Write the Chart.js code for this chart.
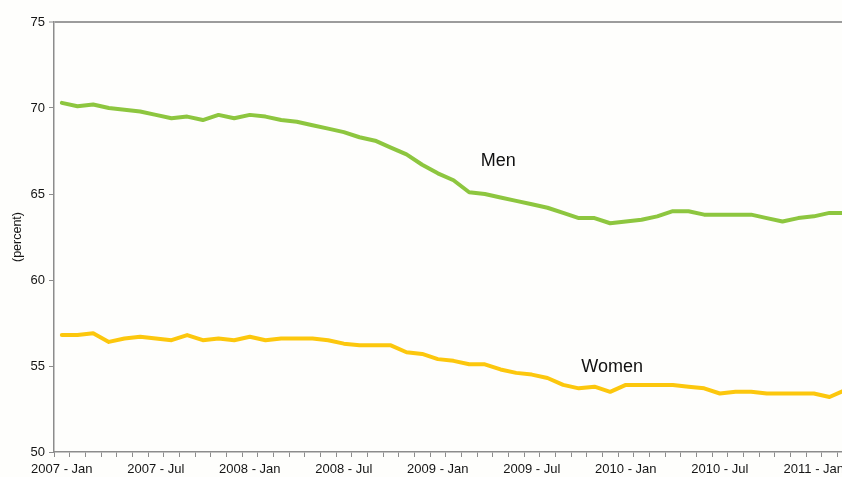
<!DOCTYPE html>
<html>
<head>
<meta charset="utf-8">
<script src="https://cdn.jsdelivr.net/npm/chart.js@4.4.1/dist/chart.umd.min.js"></script>
<style>
  html, body { margin: 0; padding: 0; background: #fefefc; overflow: hidden; }
  #wrap { position: relative; width: 856px; height: 477px; }
</style>
</head>
<body>
<div id="wrap"><canvas id="c"></canvas></div>
<script>
const categories = [
  '2007 - Jan','2007 - Feb','2007 - Mar','2007 - Apr','2007 - May','2007 - Jun',
  '2007 - Jul','2007 - Aug','2007 - Sep','2007 - Oct','2007 - Nov','2007 - Dec',
  '2008 - Jan','2008 - Feb','2008 - Mar','2008 - Apr','2008 - May','2008 - Jun',
  '2008 - Jul','2008 - Aug','2008 - Sep','2008 - Oct','2008 - Nov','2008 - Dec',
  '2009 - Jan','2009 - Feb','2009 - Mar','2009 - Apr','2009 - May','2009 - Jun',
  '2009 - Jul','2009 - Aug','2009 - Sep','2009 - Oct','2009 - Nov','2009 - Dec',
  '2010 - Jan','2010 - Feb','2010 - Mar','2010 - Apr','2010 - May','2010 - Jun',
  '2010 - Jul','2010 - Aug','2010 - Sep','2010 - Oct','2010 - Nov','2010 - Dec',
  '2011 - Jan','2011 - Feb','2011 - Mar'
];
const shownTickLabels = ['2007 - Jan','2007 - Jul','2008 - Jan','2008 - Jul','2009 - Jan','2009 - Jul','2010 - Jan','2010 - Jul','2011 - Jan'];
const menValues = [
  70.3, 70.1, 70.2, 70.0, 69.9, 69.8, 69.6, 69.4, 69.5, 69.3, 69.6, 69.4,
  69.6, 69.5, 69.3, 69.2, 69.0, 68.8, 68.6, 68.3, 68.1, 67.7, 67.3, 66.7,
  66.2, 65.8, 65.1, 65.0, 64.8, 64.6, 64.4, 64.2, 63.9, 63.6, 63.6, 63.3,
  63.4, 63.5, 63.7, 64.0, 64.0, 63.8, 63.8, 63.8, 63.8, 63.6, 63.4, 63.6,
  63.7, 63.9, 63.9
];
const womenValues = [
  56.8, 56.8, 56.9, 56.4, 56.6, 56.7, 56.6, 56.5, 56.8, 56.5, 56.6, 56.5,
  56.7, 56.5, 56.6, 56.6, 56.6, 56.5, 56.3, 56.2, 56.2, 56.2, 55.8, 55.7,
  55.4, 55.3, 55.1, 55.1, 54.8, 54.6, 54.5, 54.3, 53.9, 53.7, 53.8, 53.5,
  53.9, 53.9, 53.9, 53.9, 53.8, 53.7, 53.4, 53.5, 53.5, 53.4, 53.4, 53.4,
  53.4, 53.2, 53.6
];
const yTickValues = [50, 55, 60, 65, 70, 75];
const seriesNames = ['Men', 'Women'];

const seriesLabelPlugin = {
  id: 'seriesLabels',
  afterDatasetsDraw(chart) {
    const { ctx, scales: { x, y } } = chart;
    const spots = [
      { text: seriesNames[0], xv: 27.85, yv: 66.91 },
      { text: seriesNames[1], xv: 35.13, yv: 54.93 }
    ];
    ctx.save();
    ctx.font = '18px "Liberation Sans", Arial, sans-serif';
    ctx.fillStyle = '#111';
    ctx.textAlign = 'center';
    ctx.textBaseline = 'middle';
    spots.forEach(s => ctx.fillText(s.text, x.getPixelForValue(s.xv), y.getPixelForValue(s.yv)));
    ctx.restore();
  }
};

const bgPlugin = {
  id: 'bg',
  beforeDraw(chart) {
    const ctx = chart.ctx;
    ctx.save();
    ctx.fillStyle = '#fefefc';
    ctx.fillRect(0, 0, chart.width, chart.height);
    ctx.restore();
  }
};

Chart.defaults.font.family = '"Liberation Sans", Arial, sans-serif';
Chart.defaults.font.size = 13;
Chart.defaults.color = '#151515';

new Chart(document.getElementById('c'), {
  type: 'line',
  data: {
    labels: categories,
    datasets: [
      { label: seriesNames[0], data: menValues, borderColor: '#8dc63f', borderWidth: 4,
        pointRadius: 0, tension: 0, fill: false, borderJoinStyle: 'round', borderCapStyle: 'round' },
      { label: seriesNames[1], data: womenValues, borderColor: '#fcc70d', borderWidth: 4,
        pointRadius: 0, tension: 0, fill: false, borderJoinStyle: 'round', borderCapStyle: 'round' }
    ]
  },
  options: {
    responsive: true,
    maintainAspectRatio: false,
    animation: false,
    events: [],
    layout: { padding: { top: 22, right: 3, bottom: 0, left: 0 } },
    plugins: { legend: { display: false }, tooltip: { enabled: false } },
    scales: {
      x: {
        type: 'category',
        offset: true,
        border: { display: true, color: '#8c8c8c', width: 1.5 },
        grid: { offset: true, drawOnChartArea: false, drawTicks: true, tickLength: 5, color: '#8c8c8c', lineWidth: 1 },
        ticks: {
          autoSkip: false, maxRotation: 0, minRotation: 0, padding: 5,
          font: { size: 13 },
          callback: function(value) {
            const lab = this.getLabelForValue(value);
            return shownTickLabels.includes(lab) ? lab : '';
          }
        },
        afterFit(scale) { scale.height = 25; }
      },
      y: {
        min: 50, max: 75,
        border: { display: true, color: '#8c8c8c', width: 1.5 },
        grid: {
          drawOnChartArea: true, drawTicks: true, tickLength: 5,
          color: ctx => (ctx.tick && ctx.tick.value === 75) ? '#9c9c9c' : 'rgba(0,0,0,0)',
          lineWidth: ctx => (ctx.tick && ctx.tick.value === 75) ? 2 : 1,
          tickColor: '#8c8c8c', tickWidth: 1
        },
        ticks: { stepSize: 5, padding: 4, font: { size: 13 } },
        afterBuildTicks(scale) { scale.ticks = yTickValues.map(v => ({ value: v })); },
        title: { display: true, text: '(percent)', font: { size: 12.5 }, padding: { top: 10, bottom: 0 } },
        afterFit(scale) { scale.width = 54; }
      }
    }
  },
  plugins: [bgPlugin, seriesLabelPlugin]
});
</script>
</body>
</html>
